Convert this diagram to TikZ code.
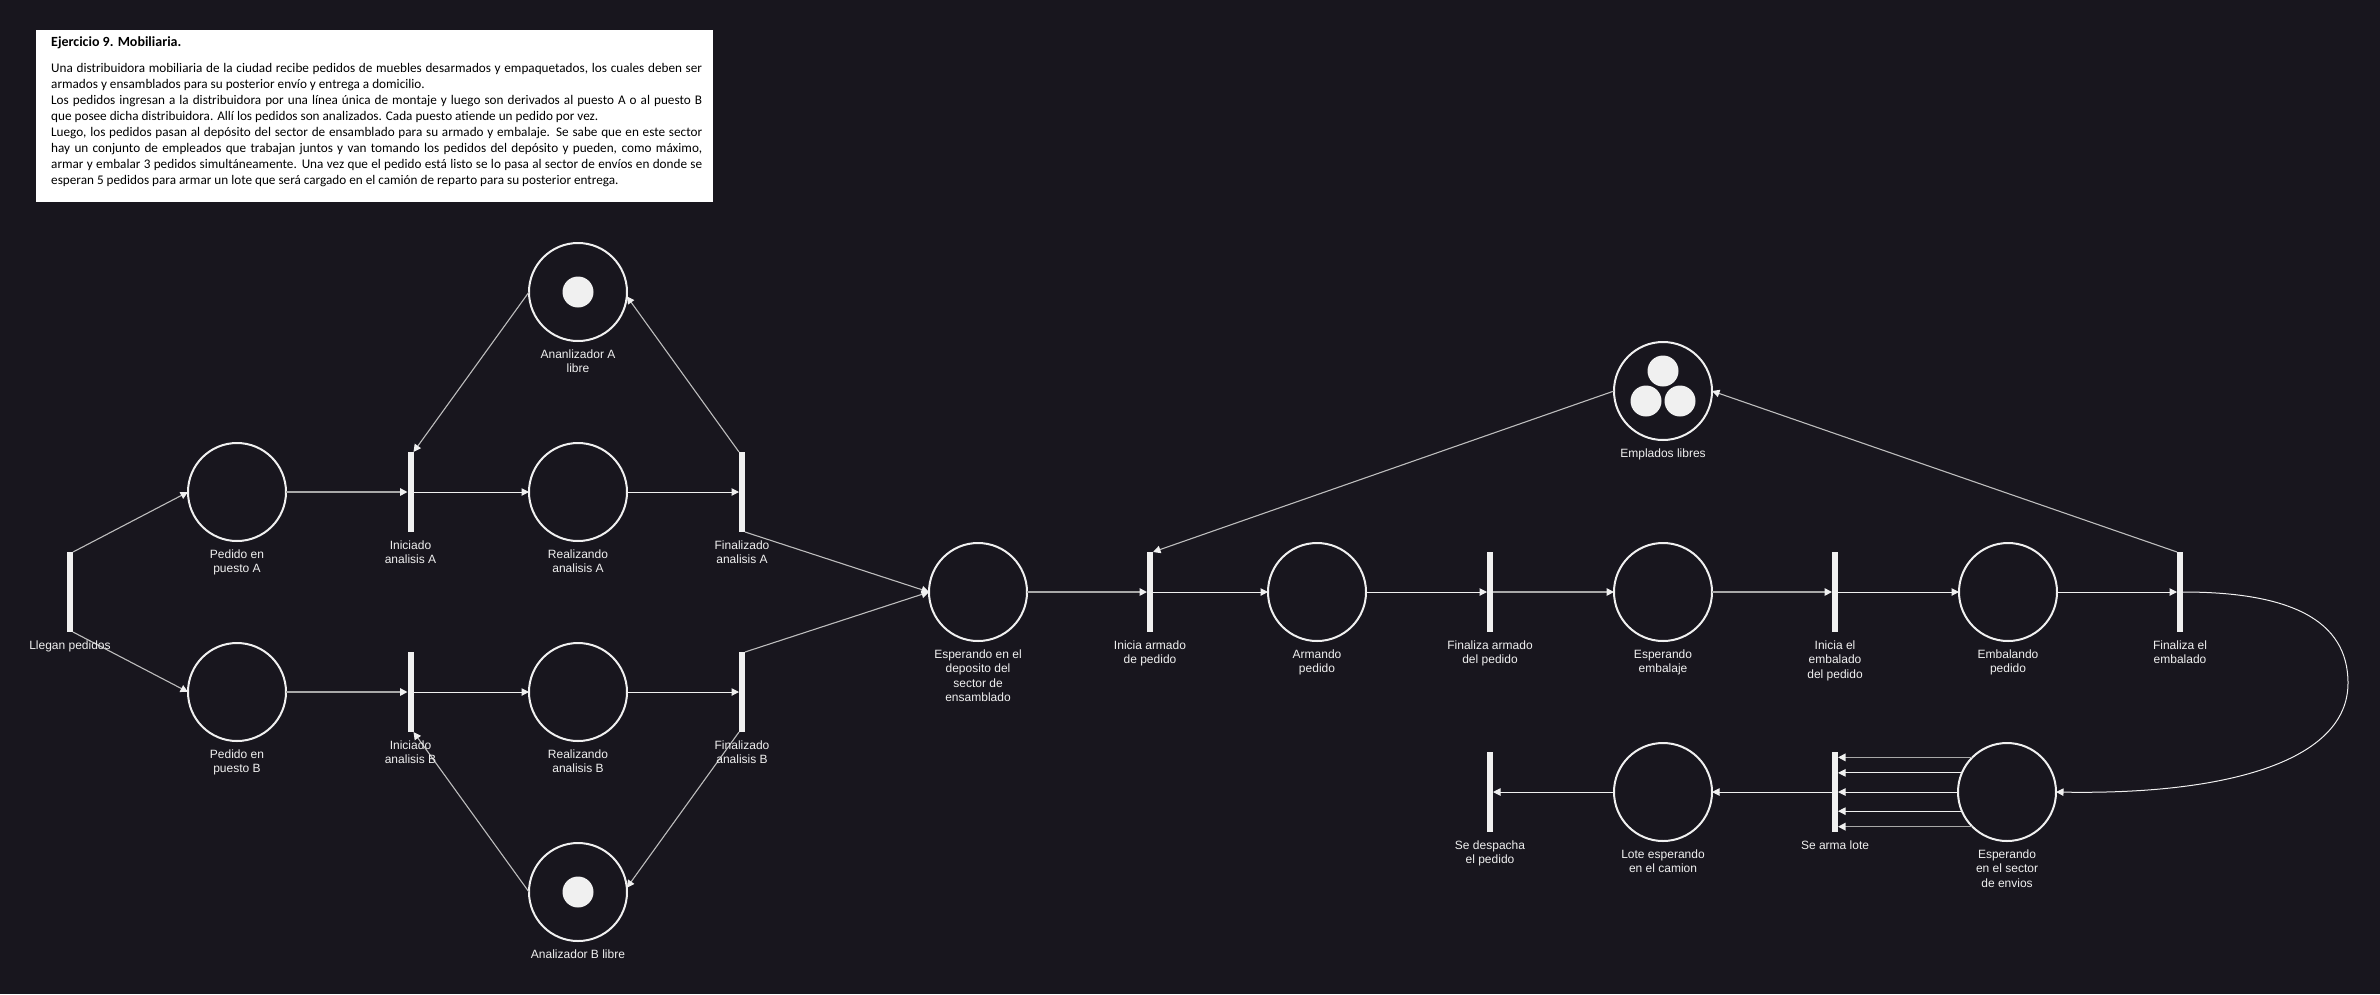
\documentclass[tikz,border=0pt]{standalone}
\usepackage{fontspec}
\setmainfont{Liberation Sans}
\newfontfamily\carlito{Carlito}
\usetikzlibrary{arrows.meta,calc}
\definecolor{bg}{HTML}{18161E}
\definecolor{fg}{HTML}{F0F0F0}
\definecolor{gl}{HTML}{A8A8A8}
\definecolor{dl}{HTML}{BDBDBD}
\begin{document}
\begin{tikzpicture}[x=1pt,y=-1pt,
  place/.style={circle,draw=fg,line width=2pt,fill=bg,minimum size=98pt,inner sep=0pt,outer sep=0pt},
  trans/.style={rectangle,fill=fg,minimum width=6pt,minimum height=80pt,inner sep=0pt,outer sep=0pt},
  tok/.style={circle,fill=fg,minimum size=31pt,inner sep=0pt,outer sep=0pt},
  lbl/.style={anchor=north,inner sep=0pt,align=center,text=fg,font=\fontsize{12}{14.2}\selectfont},
  tip/.style={-{Triangle[length=7.5pt,width=7.5pt,color=fg]}},
  arcw/.style={draw=fg,line width=1pt,tip},
  arcg/.style={draw=gl,line width=1.6pt,tip},
  arcd/.style={draw=dl,line width=1.1pt,tip}]
\useasboundingbox (0,0) rectangle (2380,994);
\fill[bg] (0,0) rectangle (2380,994);
% statement box
\fill[white] (36,30) rectangle (713,202);
\node[anchor=base west,inner sep=0pt,text=black,font=\carlito\bfseries\fontsize{14}{16}\selectfont] (title) at (51,46) {Ejercicio 9. Mobiliaria.};
\node[anchor=base west,inner sep=0pt,text=black,font=\carlito\fontsize{13.2}{16}\selectfont] (body) at (51,72) {\vtop{\hsize=651pt
\hbox to\hsize{Una distribuidora mobiliaria de la ciudad recibe pedidos de muebles desarmados y empaquetados, los cuales deben ser}
\hbox{armados y ensamblados para su posterior envío y entrega a domicilio.}
\hbox to\hsize{Los pedidos ingresan a la distribuidora por una línea única de montaje y luego son derivados al puesto A o al puesto B}
\hbox{que posee dicha distribuidora. Allí los pedidos son analizados. Cada puesto atiende un pedido por vez.}
\hbox to\hsize{Luego, los pedidos pasan al depósito del sector de ensamblado para su armado y embalaje. Se sabe que en este sector}
\hbox to\hsize{hay un conjunto de empleados que trabajan juntos y van tomando los pedidos del depósito y pueden, como máximo,}
\hbox to\hsize{armar y embalar 3 pedidos simultáneamente. Una vez que el pedido está listo se lo pasa al sector de envíos en donde se}
\hbox{esperan 5 pedidos para armar un lote que será cargado en el camión de reparto para su posterior entrega.}}};
% places
\node[place] (pA) at (237,492) {};
\node[place] (pB) at (237,692) {};
\node[place] (rA) at (578,492) {};
\node[place] (rB) at (578,692) {};
\node[place] (aA) at (578,292) {};
\node[place] (aB) at (578,892) {};
\node[place] (dep) at (978,592) {};
\node[place] (arm) at (1317,592) {};
\node[place] (emp) at (1663,391) {};
\node[place] (eemb) at (1663,592) {};
\node[place] (embp) at (2008,592) {};
\node[place] (env) at (2007,792) {};
\node[place] (lote) at (1663,792) {};
% tokens
\node[tok] (tA) at (578,292) {};
\node[tok] (tB) at (578,892) {};
\node[tok] (e1) at (1663,371) {};
\node[tok] (e2) at (1646,401) {};
\node[tok] (e3) at (1680,401) {};
% transitions
\node[trans] (tL) at (70,592) {};
\node[trans] (iA) at (410.5,492) {};
\node[trans] (iB) at (410.5,692) {};
\node[trans] (fA) at (742,492) {};
\node[trans] (fB) at (742,692) {};
\node[trans] (ia) at (1150,592) {};
\node[trans] (fa) at (1490,592) {};
\node[trans] (ie) at (1835,592) {};
\node[trans] (fe) at (2180,592) {};
\node[trans] (sal) at (1835,792) {};
\node[trans] (sd) at (1490,792) {};
% arcs
\draw[arcd] (tL.north east) -- (pA.west);
\draw[arcd] (tL.south east) -- (pB.west);
\draw[arcg] (pA.east) -- (iA.west);
\draw[arcw] (iA.east) -- (rA.west);
\draw[arcw] (rA.east) -- (fA.west);
\draw[arcg] (pB.east) -- (iB.west);
\draw[arcw] (iB.east) -- (rB.west);
\draw[arcw] (rB.east) -- (fB.west);
\draw[arcd] (aA.west) -- (iA.north east);
\draw[arcd] (fA.north west) -- (aA.355);
\draw[arcd] (aB.west) -- (iB.south east);
\draw[arcd] (fB.south west) -- (aB.5);
\draw[arcd] (fA.south east) -- (dep.west);
\draw[arcd] (fB.north east) -- (dep.west);
\draw[arcg] (dep.east) -- (ia.west);
\draw[arcw] (ia.east) -- (arm.west);
\draw[arcw] (arm.east) -- (fa.west);
\draw[arcg] (fa.east) -- (eemb.west);
\draw[arcg] (eemb.east) -- (ie.west);
\draw[arcw] (ie.east) -- (embp.west);
\draw[arcw] (embp.east) -- (fe.west);
\draw[arcd] (emp.west) -- (ia.north east);
\draw[arcd] (fe.north west) -- (emp.east);
\draw[arcw] (fe.east) .. controls (2290,592) and (2348,620) .. (2348,683)
  .. controls (2348,760) and (2230,795) .. (env.east);
\draw[arcg] (env.135) -- (env.135 -| sal.east);
\draw[arcw] (env.157) -- (env.157 -| sal.east);
\draw[arcw] (env.180) -- (env.180 -| sal.east);
\draw[arcw] (env.203) -- (env.203 -| sal.east);
\draw[arcg] (env.225) -- (env.225 -| sal.east);
\draw[arcw] (sal.west) -- (lote.east);
\draw[arcw] (lote.west) -- (sd.east);
% labels
\node[lbl] (LtL) at ($(tL.south)+(0,8.7)$) {Llegan pedidos};
\node[lbl] (LpA) at ($(pA.south)+(0,8.7)$) {Pedido en\\puesto A};
\node[lbl] (LpB) at ($(pB.south)+(0,8.7)$) {Pedido en\\puesto B};
\node[lbl] (LiA) at ($(iA.south)+(0,8.7)$) {Iniciado\\analisis A};
\node[lbl] (LiB) at ($(iB.south)+(0,8.7)$) {Iniciado\\analisis B};
\node[lbl] (LrA) at ($(rA.south)+(0,8.7)$) {Realizando\\analisis A};
\node[lbl] (LrB) at ($(rB.south)+(0,8.7)$) {Realizando\\analisis B};
\node[lbl] (LfA) at ($(fA.south)+(0,8.7)$) {Finalizado\\analisis A};
\node[lbl] (LfB) at ($(fB.south)+(0,8.7)$) {Finalizado\\analisis B};
\node[lbl] (LaA) at ($(aA.south)+(0,8.7)$) {Ananlizador A\\libre};
\node[lbl] (LaB) at ($(aB.south)+(0,8.7)$) {Analizador B libre};
\node[lbl] (Ldep) at ($(dep.south)+(0,8.7)$) {Esperando en el\\deposito del\\sector de\\ensamblado};
\node[lbl] (Lia) at ($(ia.south)+(0,8.7)$) {Inicia armado\\de pedido};
\node[lbl] (Larm) at ($(arm.south)+(0,8.7)$) {Armando\\pedido};
\node[lbl] (Lfa) at ($(fa.south)+(0,8.7)$) {Finaliza armado\\del pedido};
\node[lbl] (Lemp) at ($(emp.south)+(0,8.7)$) {Emplados libres};
\node[lbl] (Leemb) at ($(eemb.south)+(0,8.7)$) {Esperando\\embalaje};
\node[lbl] (Lie) at ($(ie.south)+(0,8.7)$) {Inicia el\\embalado\\del pedido};
\node[lbl] (Lembp) at ($(embp.south)+(0,8.7)$) {Embalando\\pedido};
\node[lbl] (Lfe) at ($(fe.south)+(0,8.7)$) {Finaliza el\\embalado};
\node[lbl] (Lsd) at ($(sd.south)+(0,8.7)$) {Se despacha\\el pedido};
\node[lbl] (Llote) at ($(lote.south)+(0,8.7)$) {Lote esperando\\en el camion};
\node[lbl] (Lsal) at ($(sal.south)+(0,8.7)$) {Se arma lote};
\node[lbl] (Lenv) at ($(env.south)+(0,8.7)$) {Esperando\\en el sector\\de envios};
\end{tikzpicture}
\end{document}
